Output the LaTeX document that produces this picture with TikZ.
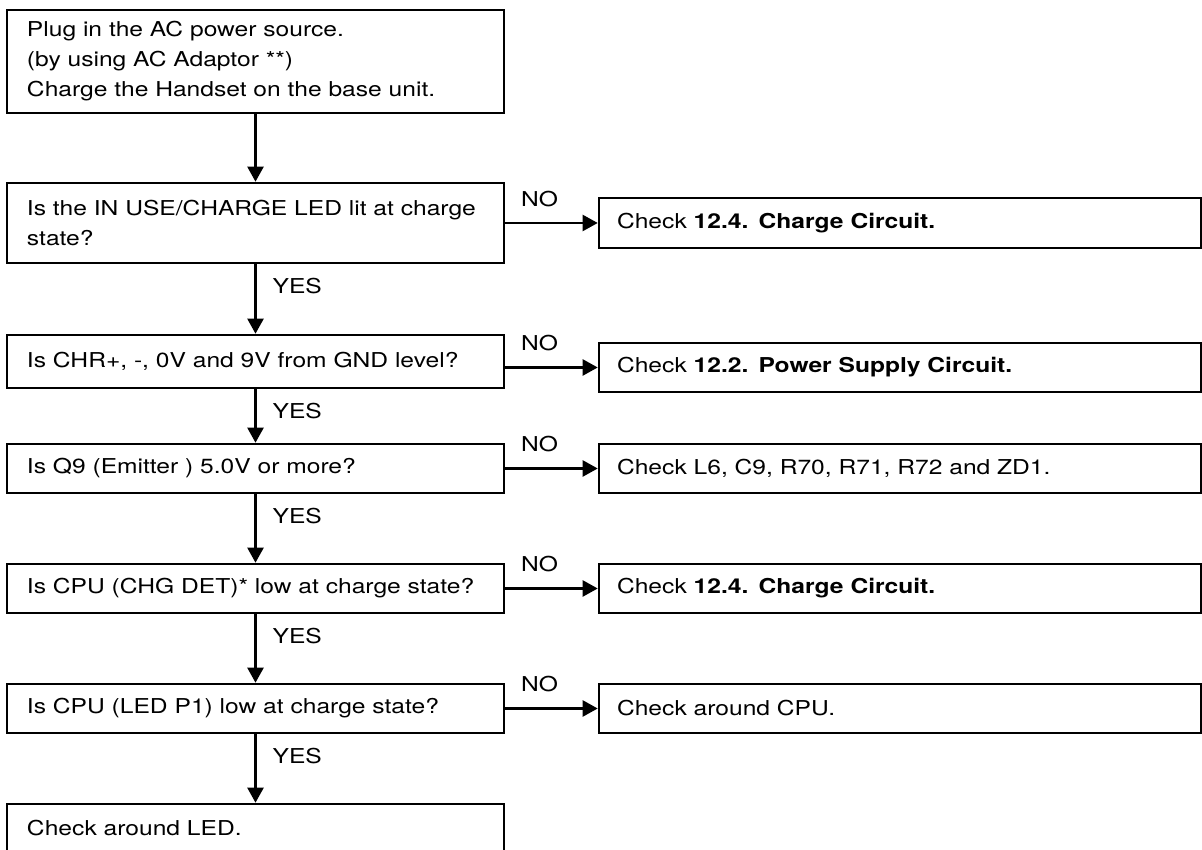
\documentclass[tikz,border=0pt]{standalone}
\usepackage{fontspec}
\setmainfont[FakeStretch=1.2]{TeX Gyre Heros}
\usetikzlibrary{arrows.meta}

\begin{document}
\begin{tikzpicture}
	[%
	x=1pt, y=1pt,%
	query/.style ={rectangle,	draw=black,	line width=2.6pt,	inner xsep=20pt,	inner ysep=3pt,	text width=457pt,	minimum width=497pt,	align=left,	font=\fontsize{20.5}{30}\selectfont},%
	remedy/.style={rectangle,	draw=black,	line width=2.6pt,	inner xsep=18pt,	inner ysep=3pt,	text width=566pt,	minimum width=602pt,	minimum height=49pt,	align=left,	font=\fontsize{20.5}{30}\selectfont},%
	answer/.style={inner sep=0pt,	font=\fontsize{20.5}{30}\selectfont},%
	flow/.style  ={line width=2.3pt,	-{Triangle[length=15pt,width=16pt]}},%
	]

	\newcommand{\lask}{255.5}
	\newcommand{\lfix}{900}

	\clip (0,0) rectangle (1202,850);

	% nodes
	\node (q1) at (\lask,788.5) [query, minimum height=103pt] {Plug in the AC power source.\\(by using AC Adaptor **)\\Charge the Handset on the base unit.};
	\node (q2) at (\lask,627)   [query, minimum height=80pt] {Is the IN USE/CHARGE LED lit at charge\\state?};
	\node (q3) at (\lask,488.5) [query, minimum height=53pt] {Is CHR+, -, 0V and 9V from GND level?};
	\node (q4) at (\lask,381.5) [query, minimum height=49pt] {Is Q9 (Emitter ) 5.0V or more?};
	\node (q5) at (\lask,261.5) [query, minimum height=49pt] {Is CPU (CHG DET)* low at charge state?};
	\node (q6) at (\lask,141.5) [query, minimum height=49pt] {Is CPU (LED P1) low at charge state?};
	\node (q7) at (\lask,21.5)  [query, minimum height=49pt] {Check around LED.};

	\node (r1) at (\lfix,627)   [remedy, minimum height=50pt] {Check \textbf{12.4. Charge Circuit.}};
	\node (r2) at (\lfix,482.5) [remedy] {Check \textbf{12.2. Power Supply Circuit.}};
	\node (r3) at (\lfix,381.5) [remedy] {Check L6, C9, R70, R71, R72 and ZD1.};
	\node (r4) at (\lfix,261.5) [remedy] {Check \textbf{12.4. Charge Circuit.}};
	\node (r5) at (\lfix,141.5) [remedy] {Check around CPU.};

	% interconnections
	% down the questions
	\draw [flow] (q1) -- (q2);
	\foreach \i/\j in {2/3,3/4,4/5,5/6,6/7}%
		\draw [flow] (q\i) -- node [answer, at start, anchor=west, xshift=16pt, yshift=-22pt] {YES} (q\j);

	% out to the checks
	\foreach \i/\j in {2/1,3/2,4/3,5/4,6/5}%
		\draw [flow] (q\i.east |- r\j.west) -- node [answer, pos=0.37, yshift=24pt] {NO} (r\j.west);

\end{tikzpicture}
\end{document}
